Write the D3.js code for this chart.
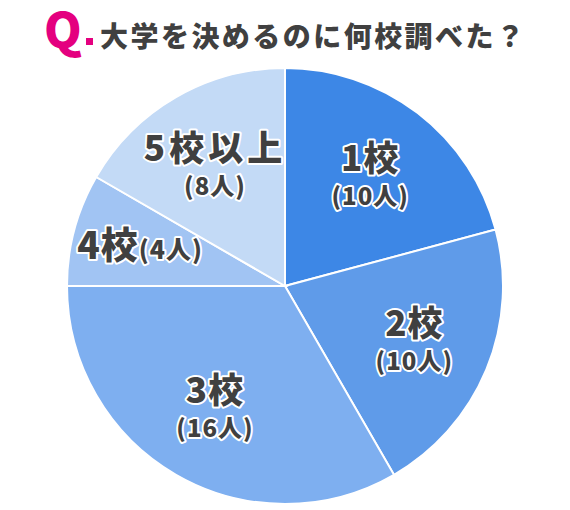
<!DOCTYPE html>
<html>
<head>
<meta charset="utf-8">
<script src="https://cdn.jsdelivr.net/npm/d3@7"></script>
<style>
  body { margin: 0; background: #fff; }
  text { font-family: "Noto Sans CJK JP", "Noto Sans", sans-serif; font-weight: 900; }
</style>
</head>
<body>
<div id="chart"></div>
<script>
// data
const categories = ["1校", "2校", "3校", "4校", "5校以上"];
const counts = [10, 10, 16, 4, 8];
const countLabels = ["(10人)", "(10人)", "(16人)", "(4人)", "(8人)"];
const colors = ["#3d87e6", "#5f9be9", "#7eaff0", "#a1c4f3", "#c3daf6"];

const width = 570;
const height = 510;
const cx = 285, cy = 286, radius = 218;

const svg = d3.select("#chart")
  .append("svg")
  .attr("width", width)
  .attr("height", height);

// title
svg.append("text")
  .attr("x", 44)
  .attr("y", 48)
  .attr("fill", "#e4007f")
  .attr("font-size", 48)
  .text("Q");
svg.append("rect")
  .attr("x", 86).attr("y", 38)
  .attr("width", 7).attr("height", 7)
  .attr("fill", "#e4007f");

svg.append("text")
  .attr("x", 100)
  .attr("y", 47)
  .attr("font-size", 28)
  .attr("fill", "#404040")
  .attr("textLength", 424)
  .attr("lengthAdjust", "spacing")
  .text("大学を決めるのに何校調べた？");

const pie = d3.pie().sort(null).value(d => d)(counts);
const arc = d3.arc().innerRadius(0).outerRadius(radius);
const labelArc = d3.arc().innerRadius(140).outerRadius(140);
const smallLabelArc = d3.arc().innerRadius(150).outerRadius(150);

const g = svg.append("g").attr("transform", `translate(${cx},${cy})`);

g.selectAll("path")
  .data(pie)
  .enter()
  .append("path")
  .attr("d", arc)
  .attr("fill", (d, i) => colors[i])
  .attr("stroke", "#fff")
  .attr("stroke-width", 2);

const labels = g.selectAll(".lbl")
  .data(pie)
  .enter()
  .append("g")
  .attr("class", "lbl")
  .attr("transform", d => `translate(${(d.value < 5 ? smallLabelArc : labelArc).centroid(d)})`);

const halo = t => t.attr("fill", "#404040")
  .attr("stroke", "#fff")
  .attr("stroke-width", 4)
  .attr("stroke-linejoin", "round")
  .attr("paint-order", "stroke");

labels.each(function(d, i) {
  const el = d3.select(this);
  if (d.value < 5) {
    // small slice: one line
    const t = el.append("text").attr("text-anchor", "middle").attr("y", 12);
    halo(t);
    t.append("tspan").attr("font-size", 37).attr("letter-spacing", 1).text(categories[i]);
    t.append("tspan").attr("font-size", 25).attr("letter-spacing", 1).text(countLabels[i]);
  } else {
    halo(el.append("text")
      .attr("text-anchor", "middle")
      .attr("y", -4)
      .attr("font-size", 35)
      .attr("letter-spacing", categories[i].length > 2 ? 4 : 1)
      .text(categories[i]));
    halo(el.append("text")
      .attr("text-anchor", "middle")
      .attr("y", 30)
      .attr("font-size", 24)
      .attr("letter-spacing", 1)
      .text(countLabels[i]));
  }
});
</script>
</body>
</html>
